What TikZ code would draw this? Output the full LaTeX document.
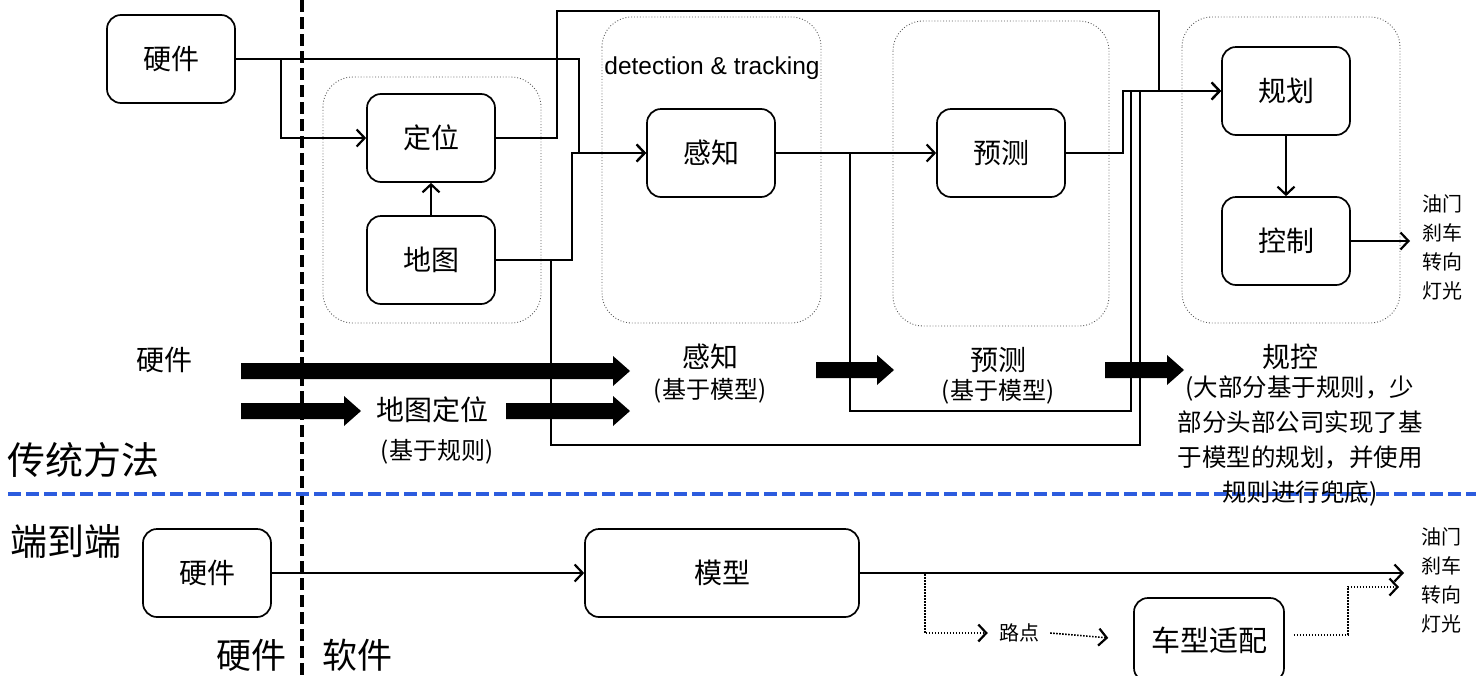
\documentclass[tikz,border=0pt]{standalone}
\usepackage{fontspec}
\setmainfont{Noto Sans CJK SC}
\newfontfamily\latinsans{Liberation Sans}
\usetikzlibrary{arrows.meta,calc}
\definecolor{sepblue}{RGB}{44,92,222}
\newcommand\fsz[2]{\fontsize{#1}{#2}\selectfont}
\newcommand\blockarrow[3]{%
  \fill (#1,#3-8) -- (#2-17,#3-8) -- (#2-17,#3-15) -- (#2,#3) -- (#2-17,#3+15) -- (#2-17,#3+8) -- (#1,#3+8) -- cycle;}
\tikzset{
  box/.style={draw, line width=1.7pt, rounded corners=14pt, minimum width=128pt,
    minimum height=88pt, inner sep=0pt, font=\fsz{28}{34}},
  group/.style={draw=black!65, dotted, line width=0.9pt, rounded corners=30pt},
  conn/.style={line width=1.9pt},
  tip/.style={-{Straight Barb[length=8pt,width=17pt,line width=2.2pt]}},
  dotconn/.style={line width=1.6pt, dash pattern=on 1.6pt off 1.4pt},
  big/.style={font=\fsz{28}{34}, inner sep=0pt},
  small/.style={font=\fsz{24}{30}, inner sep=0pt},
  outlbl/.style={font=\fsz{20}{29}, align=center, inner sep=0pt},
}
\begin{document}
\begin{tikzpicture}[x=1pt,y=-1pt]
\useasboundingbox (0,0) rectangle (1481,675);
\clip (0,0) rectangle (1481,675);

% separators
\draw[line width=4pt, dash pattern=on 12pt off 5pt] (302,0) -- (302,675);
\draw[sepblue, line width=4.5pt, dash pattern=on 13pt off 5pt] (8,494) -- (1476,494);

% groups
\draw[group] (323,77) rectangle (541,323);
\draw[group] (602,17) rectangle (821,323);
\draw[group] (893,21) rectangle (1109,326);
\draw[group] (1182,17) rectangle (1400,323);

\node[font=\latinsans\fsz{24.5}{28}, inner sep=0pt] (dt) at (712,68) {detection \& tracking};

% top boxes
\node[box] (hw1) at (171,59) {硬件};
\node[box] (loc) at (431,138) {定位};
\node[box] (map) at (431,260) {地图};
\node[box] (per) at (711,153) {感知};
\node[box] (pred) at (1001,153) {预测};
\node[box] (plan) at (1286,91) {规划};
\node[box] (ctrl) at (1286,241) {控制};

% top connectors
\draw[conn,tip] (hw1.east) -- ++(45,0) |- (loc.west);
\draw[conn,tip] (hw1.east) -| ($(per.west)+(-67,0)$) -- (per.west);
\draw[conn,tip] (map.east) -- ++(76,0) |- (per.west);
\draw[conn,tip] (map.north) -- (loc.south);
\draw[conn,tip] (loc.east) -- ++(61,0) |- (1159,11) |- (plan.west);
\draw[conn,tip] (per.east) -- (pred.west);
\draw[conn,tip] (pred.east) -- ++(57,0) |- (plan.west);
\draw[conn] (per.east) -- ++(74,0) -- ++(0,258) -| ($(plan.west)+(-90,0)$);
\draw[conn] (map.east) -- ++(55,0) -- ++(0,185) -| ($(plan.west)+(-81,0)$);
\draw[conn,tip] (plan.south) -- (ctrl.north);
\coordinate (outA) at (1410,241);
\draw[line width=1.3pt,tip] (ctrl.east) -- (outA);
\node[outlbl] (actA) at (1442,247) {油门\\刹车\\转向\\灯光};

% block arrows
\blockarrow{241}{630}{371}
\blockarrow{241}{361}{411}
\blockarrow{506}{630}{411}
\blockarrow{816}{894}{370}
\blockarrow{1105}{1184}{370}

% stage labels
\node[big] (lhw) at (164,360) {硬件};
\node[big] (lper) at (710,357) {感知};
\node[small] (lper2) at (710,391) {(基于模型)};
\node[big] (lmap) at (432,410) {地图定位};
\node[small] (lmap2) at (437,452) {(基于规则)};
\node[big] (lpred) at (998,360) {预测};
\node[small] (lpred2) at (998,392) {(基于模型)};
\node[big] (lgk) at (1290,357) {规控};
\node[font=\fsz{24.5}{35}, align=center, inner sep=0pt, anchor=north] (lgk2) at (1300,376)
  {(大部分基于规则，少\\部分头部公司实现了基\\于模型的规划，并使用\\规则进行兜底)};

\node[font=\fsz{38}{44}, inner sep=0pt] (trad) at (84,460) {传统方法};
\node[font=\fsz{37}{44}, inner sep=0pt] (e2e) at (66,542) {端到端};
\node[font=\fsz{35}{40}, inner sep=0pt] (hwl) at (251,655) {硬件};
\node[font=\fsz{35}{40}, inner sep=0pt] (swl) at (357,655) {软件};

% bottom
\node[box] (hw2) at (207,573) {硬件};
\node[box, minimum width=274pt] (model) at (722,573) {模型};
\node[box, minimum width=150pt, minimum height=84pt, font=\fsz{29}{34}] (adapt) at (1209,640) {车型适配};
\node[font=\fsz{20}{24}, inner xsep=11pt, inner ysep=0pt] (wp) at (1019,633) {路点};
\node[outlbl] (actB) at (1441,580) {油门\\刹车\\转向\\灯光};
\coordinate (outB) at (1404,573);
\coordinate (outC) at (1399,587);

\draw[line width=1.3pt,tip] (hw2.east) -- (model.west);
\draw[line width=1.3pt,tip] (model.east) -- (outB);
\draw[dotconn,tip] (model.east) -| ($(model.east)+(65,60)$) -- (wp.west);
\draw[dotconn,tip,shorten >=25pt] (wp.east) -- (adapt.west);
\draw[dotconn,tip] ($(adapt.east)+(9,-5)$) -- ++(54,0) |- (outC);
\end{tikzpicture}
\end{document}
